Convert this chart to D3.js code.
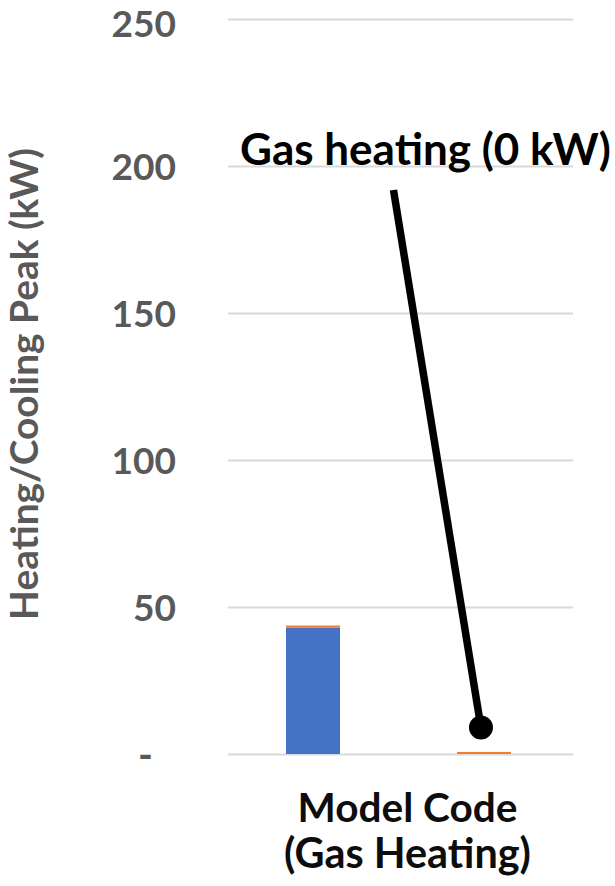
<!DOCTYPE html>
<html>
<head>
<meta charset="utf-8">
<script src="https://cdn.jsdelivr.net/npm/d3@7"></script>
<style>
  html, body { margin: 0; padding: 0; background: #fff; }
  svg { display: block; }
  text { font-family: Lato, "Open Sans", "Liberation Sans", sans-serif; font-weight: 700; }
</style>
</head>
<body>
<svg id="chart" width="615" height="886"></svg>
<script>
// ---- data ----
const categories = ["Model Code (Gas Heating)"];
const categoryLines = ["Model Code", "(Gas Heating)"];
const subgroups = ["Cooling", "Heating"];
const stackKeys = ["Electric", "Other"];
const electricValues = [43, 0];
const otherValues = [0.7, 0.7];
const yTicks = [0, 50, 100, 150, 200, 250];
const yTickLabels = ["-\u2007", "50", "100", "150", "200", "250"];
const yTitle = "Heating/Cooling Peak (kW)";
const annotationText = "Gas heating (0 kW)";
const annotationSubgroup = "Heating";
const annotationValue = 9;

const colors = { Electric: "#4472C4", Other: "#ED7D31" };

const svg = d3.select("#chart");
const plot = { left: 228, right: 573, top: 19, bottom: 754 };

const y = d3.scaleLinear().domain([0, 250]).range([plot.bottom, plot.top]);
const x0 = d3.scaleBand().domain(categories).range([plot.left, plot.right]).padding(0);
const x1 = d3.scaleBand().domain(subgroups).range([plot.left - 2, plot.right - 2])
  .paddingInner(0.684).paddingOuter(0.351);

function fit(sel, target) {
  const w = sel.node().getComputedTextLength();
  const fs = parseFloat(sel.attr("font-size"));
  sel.attr("font-size", fs * target / w);
}

// gridlines
const grid = svg.append("g").attr("transform", `translate(${plot.left},0)`)
  .call(d3.axisRight(y).tickValues(yTicks).tickSize(plot.right - plot.left).tickFormat(""));
grid.select(".domain").remove();
grid.selectAll("line").attr("stroke", "#d9d9d9").attr("stroke-width", 2);

// tick labels
const tl = svg.append("g").attr("transform", `translate(176,0)`)
  .call(d3.axisLeft(y).tickValues(yTicks).tickSize(0).tickPadding(0)
    .tickFormat((d, i) => yTickLabels[i]));
tl.select(".domain").remove();
tl.selectAll("text")
  .attr("fill", "#595959").attr("font-size", 42).attr("dy", "0.36em")
  .style("font-family", "Lato, 'Open Sans', sans-serif").style("font-weight", 700);
tl.selectAll("text").each(function(d, i) {
  const s = d3.select(this);
  if (i > 0) fit(s, 21.5 * String(yTickLabels[i]).length);
  else s.attr("font-size", 40);
  if (d === d3.max(yTicks)) s.attr("y", 4);
});

// bars
const rows = subgroups.map((s, i) => ({ subgroup: s, Electric: electricValues[i], Other: otherValues[i] }));
const stacked = d3.stack().keys(stackKeys)(rows);
svg.append("g").selectAll("g").data(stacked).join("g")
  .attr("fill", d => colors[d.key])
  .selectAll("rect").data(d => d).join("rect")
  .attr("x", d => x1(d.data.subgroup))
  .attr("width", x1.bandwidth())
  .attr("y", d => y(d[1]))
  .attr("height", d => y(d[0]) - y(d[1]));

// y title
const yt = svg.append("text")
  .attr("transform", `translate(38,${(148 + 620) / 2}) rotate(-90)`)
  .attr("text-anchor", "middle").attr("fill", "#595959").attr("font-size", 40)
  .text(yTitle);
fit(yt, 472);

// x category labels
const cx = x0(categories[0]) + x0.bandwidth() / 2 + 7;
const xl1 = svg.append("text").attr("x", cx).attr("y", 822).attr("text-anchor", "middle")
  .attr("fill", "#0d0d0d").attr("font-size", 42).text(categoryLines[0]);
fit(xl1, 220);
const xl2 = svg.append("text").attr("x", cx).attr("y", 868).attr("text-anchor", "middle")
  .attr("fill", "#0d0d0d").attr("font-size", 42).text(categoryLines[1]);
fit(xl2, 247);

// annotation
const ax = x1(annotationSubgroup) + x1.bandwidth() / 2 - 3;
const ay = y(annotationValue);
svg.append("line")
  .attr("x1", 393.5).attr("y1", y(200) + 24)
  .attr("x2", ax).attr("y2", ay)
  .attr("stroke", "#000").attr("stroke-width", 7.5);
svg.append("circle").attr("cx", ax).attr("cy", ay).attr("r", 12).attr("fill", "#000");
const at = svg.append("text").attr("x", 240).attr("y", y(200) - 1)
  .attr("fill", "#000").attr("font-size", 46).text(annotationText);
fit(at, 371);
</script>
</body>
</html>
